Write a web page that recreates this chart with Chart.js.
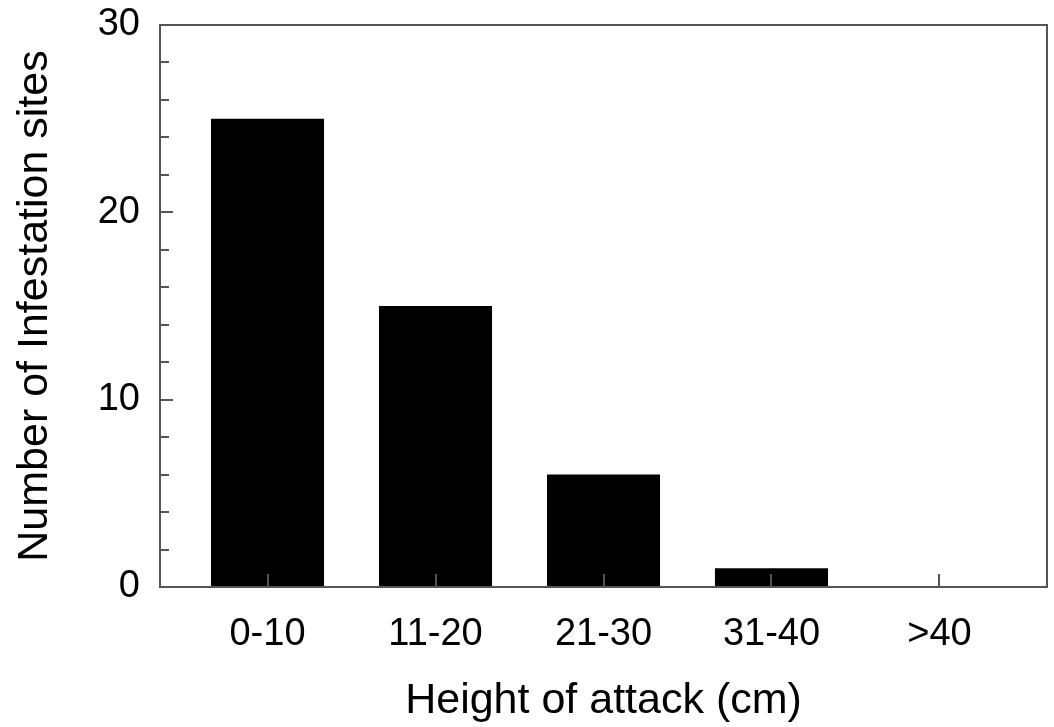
<!DOCTYPE html>
<html>
<head>
<meta charset="utf-8">
<script src="https://cdn.jsdelivr.net/npm/chart.js@4/dist/chart.umd.min.js"></script>
<style>
html,body{margin:0;padding:0;background:#fff;}
#wrap{width:1054px;height:727px;}
</style>
</head>
<body>
<div id="wrap"><canvas id="c" width="1054" height="727"></canvas></div>
<script>
const categories = ['0-10', '11-20', '21-30', '31-40', '>40'];
const infestationSites = [25, 15, 6, 1, 0];
const yTicks = [0, 10, 20, 30];
const yMinorStep = 2;
const xTitle = 'Height of attack (cm)';
const yTitle = 'Number of Infestation sites';

const AXIS = '#555';
const FONT = "'Liberation Sans', Arial, Helvetica, sans-serif";

const framePlugin = {
  id: 'frame',
  afterDatasetsDraw(chart) {
    const {ctx, chartArea: a, scales} = chart;
    ctx.save();
    ctx.strokeStyle = AXIS;
    ctx.lineWidth = 2;
    ctx.strokeRect(a.left, a.top, a.right - a.left, a.bottom - a.top);
    ctx.beginPath();
    const ys = scales.y;
    for (let v = ys.min; v <= ys.max; v += yMinorStep) {
      const p = Math.round(ys.getPixelForValue(v));
      const len = yTicks.includes(v) ? 13 : 9;
      ctx.moveTo(a.left, p);
      ctx.lineTo(a.left + len, p);
    }
    const xs = scales.x;
    categories.forEach((c, i) => {
      const p = Math.round(xs.getPixelForValue(i));
      ctx.moveTo(p, a.bottom);
      ctx.lineTo(p, a.bottom - 13);
    });
    ctx.stroke();
    ctx.restore();
  }
};

new Chart(document.getElementById('c'), {
  type: 'bar',
  data: {
    datasets: [{
      data: categories.map((c, i) => ({x: i, y: infestationSites[i]})),
      backgroundColor: '#000',
      borderWidth: 0,
      barPercentage: 0.673,
      categoryPercentage: 1
    }]
  },
  options: {
    responsive: false,
    animation: false,
    layout: {padding: {top: 25, right: 7, left: 0, bottom: 0}},
    plugins: {legend: {display: false}, tooltip: {enabled: false}},
    scales: {
      x: {
        type: 'linear',
        offset: false,
        min: -0.64,
        max: 4.64,
        grid: {display: false, drawTicks: false},
        border: {display: false},
        ticks: {
          stepSize: 1,
          includeBounds: false,
          autoSkip: false,
          maxRotation: 0,
          padding: 25,
          color: '#000',
          font: {family: FONT, size: 38},
          callback: (v) => Number.isInteger(v) && categories[v] !== undefined ? categories[v] : ''
        },
        title: {
          display: true,
          text: xTitle,
          color: '#000',
          font: {family: FONT, size: 43},
          padding: {top: 0, bottom: 0}
        },
        afterFit: (s) => { s.height = 140; s.paddingLeft = 0; s.paddingRight = 0; }
      },
      y: {
        min: 0,
        max: 30,
        grid: {display: false, drawTicks: false},
        border: {display: false},
        ticks: {
          stepSize: 10,
          padding: 20,
          color: '#000',
          font: {family: FONT, size: 38}
        },
        title: {
          display: true,
          text: yTitle,
          color: '#000',
          font: {family: FONT, size: 43},
          padding: {top: 9, bottom: 0}
        },
        afterFit: (s) => { s.width = 160; s.paddingTop = 0; s.paddingBottom = 0; }
      }
    }
  },
  plugins: [framePlugin]
});
</script>
</body>
</html>
